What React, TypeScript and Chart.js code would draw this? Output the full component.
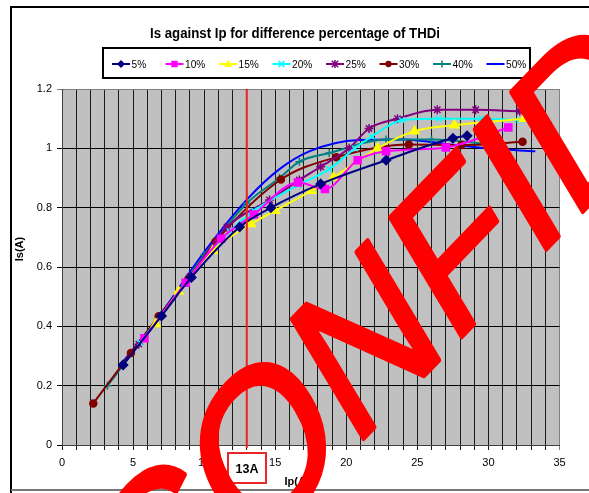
import React, { useEffect, useRef } from 'react';
import { Chart, registerables } from 'chart.js';
Chart.register(...registerables);

const TITLE = 'Is against Ip for difference percentage of THDi';
const X_TITLE = 'Ip(A)';
const Y_TITLE = 'Is(A)';
const SERIES_LABELS = ['5%', '10%', '15%', '20%', '25%', '30%', '40%', '50%'];

const X_5 = [4.3, 7.0, 9.1, 12.5, 14.7, 18.2, 22.8, 27.5, 28.5];
const Y_5 = [0.27, 0.435, 0.565, 0.735, 0.8, 0.88, 0.96, 1.034, 1.042];

const X_10 = [5.8, 8.7, 11.2, 13.5, 16.6, 18.5, 20.8, 22.8, 27.0, 31.4];
const Y_10 = [0.36, 0.547, 0.695, 0.777, 0.885, 0.863, 0.96, 0.99, 1.003, 1.07];

const X_15 = [6.6, 8.2, 10.6, 13.3, 15.0, 17.55, 19.1, 22.2, 24.8, 27.6, 32.5];
const Y_15 = [0.408, 0.517, 0.655, 0.745, 0.79, 0.857, 0.902, 1.0, 1.058, 1.078, 1.1];

const X_20 = [5.5, 8.8, 11.8, 13.5, 16.6, 18.8, 20.6, 21.8, 23.9, 26.5, 29.5, 32.2];
const Y_20 = [0.345, 0.55, 0.72, 0.79, 0.876, 0.93, 1.0, 1.04, 1.095, 1.1, 1.1, 1.095];

const X_25 = [5.4, 9.0, 11.6, 14.6, 16.7, 18.2, 20.2, 21.6, 23.6, 26.4, 29.1, 32.2];
const Y_25 = [0.34, 0.567, 0.735, 0.826, 0.893, 0.938, 1.0, 1.067, 1.1, 1.13, 1.13, 1.125];

const X_30 = [2.2, 4.85, 6.8, 8.9, 10.8, 15.4, 19.3, 24.4, 28.1, 32.4];
const Y_30 = [0.14, 0.31, 0.434, 0.56, 0.685, 0.895, 0.97, 1.013, 1.011, 1.022];

const X_40 = [3.2, 7.0, 10.0, 13.0, 15.3, 16.7, 18.8, 22.8, 26.0, 30.8];
const Y_40 = [0.2, 0.44, 0.64, 0.815, 0.9, 0.955, 0.984, 1.03, 1.03, 1.01];

const X_50 = [4.2, 7.0, 10.0, 13.1, 15.3, 17.4, 20.9, 24.0, 27.0, 30.0, 33.3];
const Y_50 = [0.275, 0.445, 0.65, 0.832, 0.93, 0.99, 1.028, 1.03, 1.015, 1.0, 0.99];

const SERIES_X = [X_5, X_10, X_15, X_20, X_25, X_30, X_40, X_50];
const SERIES_Y = [Y_5, Y_10, Y_15, Y_20, Y_25, Y_30, Y_40, Y_50];

const COLORS = ['#000080', '#FF00FF', '#FFFF00', '#00FFFF', '#800080', '#800000', '#008080', '#0000FF'];
const POINT_STYLES = ['rectRot', 'rect', 'triangle', 'crossRot', 'star', 'circle', 'cross', 'none'];
const POINT_RADII = [4.5, 5, 5, 4, 4.5, 3.5, 4, 0];

const X_MIN = 0, X_MAX = 35, Y_MIN = 0, Y_MAX = 1.2;
const MARKER_X = 13;
const MARKER_LABEL = '13A';
const WATERMARK = 'CONFIDENTIAL';

const FONT = '"Liberation Sans", Arial, sans-serif';

function drawMarker(ctx: CanvasRenderingContext2D, style: string, x: number, y: number, r: number, color: string) {
  ctx.save();
  ctx.fillStyle = color;
  ctx.strokeStyle = color;
  ctx.lineWidth = 1.5;
  ctx.beginPath();
  if (style === 'rectRot') {
    ctx.moveTo(x, y - r); ctx.lineTo(x + r, y); ctx.lineTo(x, y + r); ctx.lineTo(x - r, y); ctx.closePath(); ctx.fill();
  } else if (style === 'rect') {
    const s = r * 0.72;
    ctx.rect(x - s, y - s, 2 * s, 2 * s); ctx.fill();
  } else if (style === 'triangle') {
    ctx.moveTo(x, y - r); ctx.lineTo(x + r * 0.9, y + r * 0.6); ctx.lineTo(x - r * 0.9, y + r * 0.6); ctx.closePath(); ctx.fill();
  } else if (style === 'circle') {
    ctx.arc(x, y, r, 0, Math.PI * 2); ctx.fill();
  } else if (style === 'crossRot') {
    const s = r * 0.8;
    ctx.moveTo(x - s, y - s); ctx.lineTo(x + s, y + s); ctx.moveTo(x + s, y - s); ctx.lineTo(x - s, y + s); ctx.stroke();
  } else if (style === 'star') {
    const s = r * 0.8;
    ctx.moveTo(x - s, y - s); ctx.lineTo(x + s, y + s); ctx.moveTo(x + s, y - s); ctx.lineTo(x - s, y + s);
    ctx.moveTo(x, y - r); ctx.lineTo(x, y + r); ctx.stroke();
  } else if (style === 'cross') {
    ctx.moveTo(x - r, y); ctx.lineTo(x + r, y); ctx.moveTo(x, y - r); ctx.lineTo(x, y + r); ctx.stroke();
  }
  ctx.restore();
}

function fitText(ctx: CanvasRenderingContext2D, text: string, cx: number, cy: number, font: string, width: number, color = '#000') {
  ctx.save();
  ctx.font = font;
  const w = ctx.measureText(text).width;
  ctx.translate(cx, cy);
  ctx.scale(width / w, 1);
  ctx.fillStyle = color;
  ctx.textAlign = 'center';
  ctx.textBaseline = 'middle';
  ctx.fillText(text, 0, 0);
  ctx.restore();
}

const decor = {
  id: 'decor',
  beforeDraw(chart: any) {
    const { ctx, chartArea: a } = chart;
    ctx.save();
    ctx.fillStyle = '#fff';
    ctx.fillRect(0, 0, chart.width, chart.height);
    ctx.fillStyle = '#C0C0C0';
    ctx.fillRect(a.left, a.top, a.right - a.left, a.bottom - a.top);
    ctx.restore();
  },
  afterDraw(chart: any) {
    const { ctx, chartArea: a } = chart;
    const xs = chart.scales.x;
    ctx.save();
    // outer border
    ctx.strokeStyle = '#000';
    ctx.lineWidth = 2;
    ctx.beginPath();
    ctx.moveTo(11, 493); ctx.lineTo(11, 7); ctx.lineTo(600, 7);
    ctx.stroke();
    ctx.strokeStyle = '#777';
    ctx.beginPath();
    ctx.moveTo(11, 490); ctx.lineTo(600, 490);
    ctx.stroke();

    // title
    fitText(ctx, TITLE, 295, 34, `bold 14px ${FONT}`, 290);

    // legend
    ctx.strokeStyle = '#000';
    ctx.lineWidth = 2;
    ctx.strokeRect(103, 48, 427, 30);
    const ly = 64;
    for (let i = 0; i < SERIES_LABELS.length; i++) {
      const x0 = 112 + i * 53.5;
      const x1 = x0 + 18;
      ctx.strokeStyle = COLORS[i];
      ctx.lineWidth = 2;
      ctx.beginPath();
      ctx.moveTo(x0, ly); ctx.lineTo(x1, ly);
      ctx.stroke();
      drawMarker(ctx, POINT_STYLES[i], (x0 + x1) / 2, ly, POINT_RADII[i] * 0.9, COLORS[i]);
      ctx.save();
      ctx.font = `11px ${FONT}`;
      ctx.fillStyle = '#000';
      ctx.textAlign = 'left';
      ctx.textBaseline = 'middle';
      ctx.translate(x1 + 1.5, ly + 1);
      ctx.scale(0.92, 1);
      ctx.fillText(SERIES_LABELS[i], 0, 0);
      ctx.restore();
    }

    // axis titles
    ctx.save();
    ctx.font = `bold 11px ${FONT}`;
    ctx.fillStyle = '#000';
    ctx.textAlign = 'center';
    ctx.textBaseline = 'middle';
    ctx.fillText(X_TITLE, 297, 482);
    ctx.translate(20, 249);
    ctx.rotate(-Math.PI / 2);
    ctx.fillText(Y_TITLE, 0, 0);
    ctx.restore();

    // red marker line and label
    const mx = xs.getPixelForValue(MARKER_X);
    ctx.strokeStyle = '#F02020';
    ctx.lineWidth = 2;
    ctx.beginPath();
    ctx.moveTo(mx, a.top); ctx.lineTo(mx, a.bottom + 3);
    ctx.stroke();
    ctx.strokeStyle = '#E82828';
    ctx.strokeRect(228, 453, 38, 30);
    ctx.font = `bold 12.5px ${FONT}`;
    ctx.fillStyle = '#000';
    ctx.textAlign = 'center';
    ctx.textBaseline = 'middle';
    ctx.fillText(MARKER_LABEL, 247, 470);

    // watermark
    ctx.save();
    ctx.translate(148, 662);
    ctx.rotate(-46 * Math.PI / 180);
    ctx.transform(1, 0, -0.27, 1, 0, 0);
    ctx.font = `196px ${FONT}`;
    ctx.fillStyle = '#FF0000';
    ctx.strokeStyle = '#FF0000';
    ctx.lineWidth = 4;
    ctx.lineJoin = 'round';
    ctx.textAlign = 'left';
    ctx.textBaseline = 'alphabetic';
    ctx.fillText(WATERMARK, 0, 0);
    ctx.strokeText(WATERMARK, 0, 0);
    ctx.restore();

    ctx.restore();
  },
};

export default function App() {
  const ref = useRef<HTMLCanvasElement | null>(null);
  useEffect(() => {
    if (!ref.current) return;
    const datasets = SERIES_LABELS.map((label, i) => ({
      label,
      data: SERIES_X[i].map((x, j) => ({ x, y: SERIES_Y[i][j] })),
      showLine: true,
      borderColor: COLORS[i],
      backgroundColor: COLORS[i],
      borderWidth: 2,
      cubicInterpolationMode: 'monotone' as const,
      pointStyle: POINT_STYLES[i] === 'none' ? false : POINT_STYLES[i],
      pointRadius: POINT_RADII[i],
      pointBorderWidth: 1.5,
      pointBorderColor: COLORS[i],
      pointBackgroundColor: COLORS[i],
    }));
    const chart = new Chart(ref.current, {
      type: 'scatter',
      data: { datasets: datasets as any },
      options: {
        responsive: false,
        animation: false,
        layout: { padding: { top: 89, right: 29.5, left: 0, bottom: 0 } },
        plugins: { legend: { display: false }, title: { display: false }, tooltip: { enabled: false } },
        scales: {
          x: {
            type: 'linear',
            min: X_MIN,
            max: X_MAX,
            afterFit: (s: any) => { s.height = 48; },
            ticks: {
              stepSize: 1,
              autoSkip: false,
              maxRotation: 0,
              padding: 6,
              color: '#000',
              font: { family: FONT, size: 11 },
              callback: (v: any) => (Number(v) % 5 === 0 ? String(v) : ''),
            },
            grid: {
              color: (c: any) => (c.tick && c.tick.value === X_MAX ? '#808080' : '#1a1a1a'),
              lineWidth: 1,
              tickLength: 5,
            },
            border: { color: '#404040', width: 1 },
          },
          y: {
            type: 'linear',
            min: Y_MIN,
            max: Y_MAX,
            afterFit: (s: any) => { s.width = 62; },
            ticks: {
              stepSize: 0.2,
              padding: 5,
              color: '#000',
              font: { family: FONT, size: 11 },
              callback: (v: any) => String(Number(Number(v).toFixed(1))),
            },
            grid: {
              color: (c: any) => (c.tick && Math.abs(c.tick.value - Y_MAX) < 1e-6 ? '#808080' : '#000'),
              lineWidth: 1,
              tickLength: 5,
            },
            border: { color: '#404040', width: 1 },
          },
        },
      },
      plugins: [decor],
    });
    return () => chart.destroy();
  }, []);
  return (
    <div style={{ position: 'fixed', left: 0, top: 0, width: 589, height: 493, background: '#fff' }}>
      <canvas ref={ref} width={589} height={493} style={{ display: 'block' }} />
    </div>
  );
}
